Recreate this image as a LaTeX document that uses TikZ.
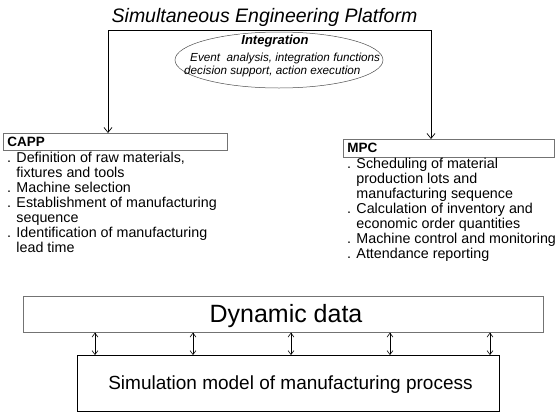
\documentclass[tikz,border=0pt]{standalone}
\usepackage{fontspec}
\setmainfont{Liberation Sans}
\usetikzlibrary{shapes.geometric,arrows.meta}
\tikzset{
  hdrbox/.style={draw=black!55, line width=0.6pt, rectangle, inner xsep=4pt, inner ysep=0pt,
    align=left, font=\fontsize{13.5}{14}\selectfont\bfseries, anchor=north west},
  listline/.style={font=\fontsize{14.3}{15}\selectfont, anchor=base west, inner sep=0pt},
  ell/.style={font=\fontsize{11.7}{13}\selectfont\itshape, anchor=base west, inner sep=0pt},
  arr/.style={line width=0.7pt, -{Straight Barb[length=5pt,width=8pt]}},
  darr/.style={line width=0.6pt, {Straight Barb[length=4pt,width=6pt]}-{Straight Barb[length=4pt,width=6pt]}},
}
\begin{document}
\begin{tikzpicture}[x=1pt,y=-1pt]
\useasboundingbox (0,0) rectangle (555,413);

% title
\node (title) [anchor=base, inner sep=0pt] at (264.5,22)
  {\fontsize{19.5}{21}\selectfont\itshape Simultaneous Engineering Platform};

% integration ellipse
\node (integ) [ellipse, draw=black!70, line width=0.5pt, minimum width=208pt, minimum height=56pt, inner sep=0pt] at (279,60) {};
\node (integhead) [anchor=base, fill=white, inner sep=1pt] at (275,44)
  {\fontsize{13}{14}\selectfont\bfseries\itshape Integration};
\node (intega) [ell] at (190,61) {Event\ \ analysis, integration functions};
\node (integb) [ell] at (184,74) {decision support, action execution};

% CAPP block
\node (capp) [hdrbox, minimum width=224pt, minimum height=17pt, text width=216pt] at (3,133) {CAPP};
\foreach \t [count=\i] in {
  {. Definition of raw materials,},
  {\phantom{. }fixtures and tools},
  {. Machine selection},
  {. Establishment of manufacturing},
  {\phantom{. }sequence},
  {. Identification of manufacturing},
  {\phantom{. }lead time}}
  \node (capp-\i) [listline] at (7,{162+15*(\i-1)}) {\t};

% MPC block
\node (mpc) [hdrbox, minimum width=211pt, minimum height=18pt, text width=203pt] at (343,139) {MPC};
\foreach \t [count=\i] in {
  {. Scheduling of material},
  {\phantom{. }production lots and},
  {\phantom{. }manufacturing sequence},
  {. Calculation of inventory and},
  {\phantom{. }economic order quantities},
  {. Machine control and monitoring},
  {. Attendance reporting}}
  \node (mpc-\i) [listline] at (347,{168.5+15*(\i-1)}) {\t};

% platform connectors
\coordinate (tl) at (108,30);
\coordinate (tr) at (431,30);
\draw[arr] (tr) -- (tl) -- (tl |- capp.north);
\draw[arr] (tr) -- (tr |- mpc.north);

% dynamic data and simulation model
\node (dyn) [draw=black!55, line width=0.6pt, minimum width=520pt, minimum height=36pt, inner sep=0pt, anchor=north west] at (23,296) {};
\node (dyntext) [anchor=base, inner sep=0pt] at (286,322) {\fontsize{25}{27}\selectfont Dynamic data};
\node (sim) [draw=black, line width=1.4pt, minimum width=422pt, minimum height=56pt, inner sep=0pt, anchor=north west] at (77,355) {};
\node (simtext) [anchor=base, inner sep=0pt] at (290.5,389) {\fontsize{19}{21}\selectfont Simulation model of manufacturing process};

\foreach \x in {95,193,291,390,490}
  \draw[darr] (dyn.south -| \x,0) -- (sim.north -| \x,0);
\end{tikzpicture}
\end{document}
